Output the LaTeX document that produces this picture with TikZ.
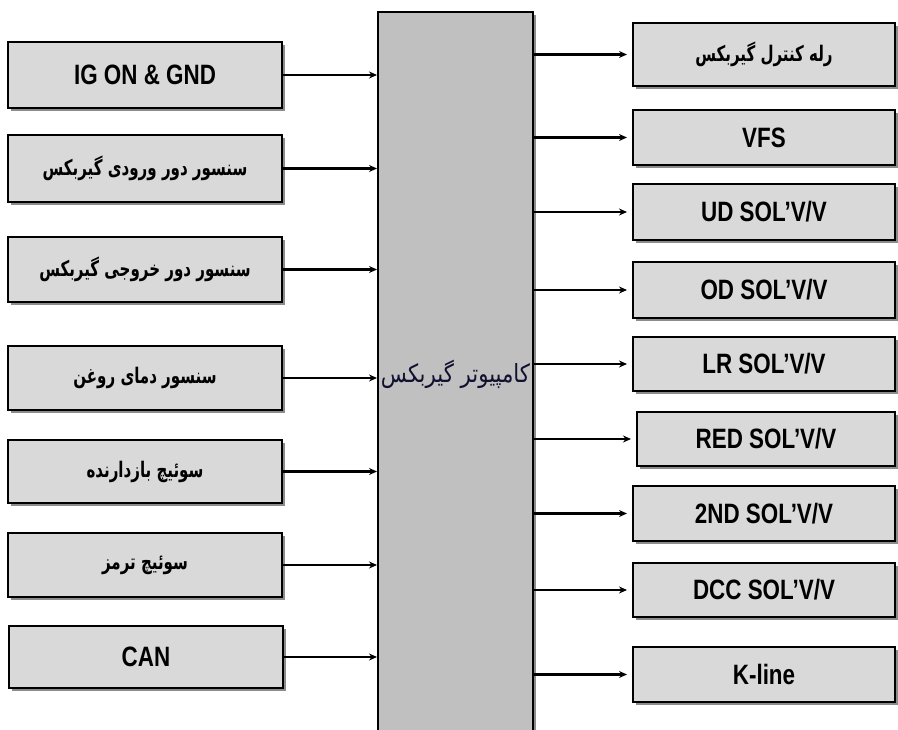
\documentclass[tikz,border=0pt]{standalone}
\usepackage{fontspec}
\usetikzlibrary{arrows.meta,shadows}
\TeXXeTstate=1
\newfontfamily\latinfont[FakeStretch=0.8]{Liberation Sans}
\newfontfamily\arabicfont[Script=Arabic, FakeStretch=0.7]{DejaVu Sans}
\newfontfamily\arabicmain[Script=Arabic, FakeStretch=0.85]{DejaVu Sans}
\definecolor{boxgray}{HTML}{D9D9D9}
\definecolor{cgray}{HTML}{C0C0C0}
\definecolor{ctext}{HTML}{101030}
\tikzset{
  sbox/.style={draw, line width=2pt, fill=boxgray, inner sep=0pt,
    drop shadow={shadow xshift=3pt, shadow yshift=-3pt, fill=black!45, opacity=1}},
  lbox/.style={sbox, minimum width=274pt},
  rbox/.style={sbox, minimum width=262pt},
  en/.style={font=\latinfont\bfseries\fontsize{28}{30}\selectfont},
  fa/.style={font=\arabicfont\bfseries\fontsize{21.5}{24}\selectfont},
  arr/.style={line width=2.3pt, -{Stealth[length=8pt,width=7pt]}},
}
\begin{document}
\begin{tikzpicture}[x=1pt,y=-1pt]
\clip (0,0) rectangle (898,730);
\fill[white] (0,0) rectangle (898,730);
% centre
\node[draw, line width=2pt, fill=cgray, minimum width=155pt, minimum height=734pt,
  drop shadow={shadow xshift=3pt, shadow yshift=-3pt, fill=black!45, opacity=1},
  font=\arabicmain\fontsize{25}{28}\selectfont, text=ctext] (C) at (455.5,379) {};
\node[font=\arabicmain\fontsize{25}{28}\selectfont, text=ctext] (CT) at (455.5,374) {\beginR کامپیوتر گیربکس\endR};
% left column
\node[lbox, en, minimum height=66pt] (L1) at (145,75) {IG ON \& GND};
\node[lbox, fa, minimum height=67pt] (L2) at (145,168.5) {\beginR سنسور دور ورودی گیربکس\endR};
\node[lbox, fa, minimum height=65pt] (L3) at (145,269.5) {\beginR سنسور دور خروجی گیربکس\endR};
\node[lbox, fa, minimum height=64pt] (L4) at (145,378) {\beginR سنسور دمای روغن\endR};
\node[lbox, fa, minimum height=63pt] (L5) at (145,471.5) {\beginR سوئیچ بازدارنده\endR};
\node[lbox, fa, minimum height=64pt] (L6) at (145,565) {\beginR سوئیچ ترمز\endR};
\node[lbox, en, minimum height=62pt] (L7) at (146,657) {CAN};
% right column
\node[rbox, fa, minimum height=63pt] (R1) at (764,54.5) {\beginR رله کنترل گیربکس\endR};
\node[rbox, en, minimum height=55pt] (R2) at (764,137.5) {VFS};
\node[rbox, en, minimum height=56pt] (R3) at (764,212) {UD SOL’V/V};
\node[rbox, en, minimum height=56pt] (R4) at (764,290) {OD SOL’V/V};
\node[rbox, en, minimum height=54pt] (R5) at (764,364) {LR SOL’V/V};
\node[rbox, en, minimum height=54pt, minimum width=258pt] (R6) at (766,439) {RED SOL’V/V};
\node[rbox, en, minimum height=55pt] (R7) at (764,513.5) {2ND SOL’V/V};
\node[rbox, en, minimum height=54pt] (R8) at (764,590) {DCC SOL’V/V};
\node[rbox, en, minimum height=55pt] (R9) at (764,674.5) {K-line};
% input arrows
\foreach \n in {L1,L2,L3,L4,L5,L6,L7}
  \draw[arr] (\n.east) -- (\n.east -| C.west);
% output arrows
\foreach \n in {R1,R2,R3,R4,R5,R6,R7,R8,R9}
  \draw[arr, shorten >=5pt] (\n.west -| C.east) -- (\n.west);
\end{tikzpicture}
\end{document}
